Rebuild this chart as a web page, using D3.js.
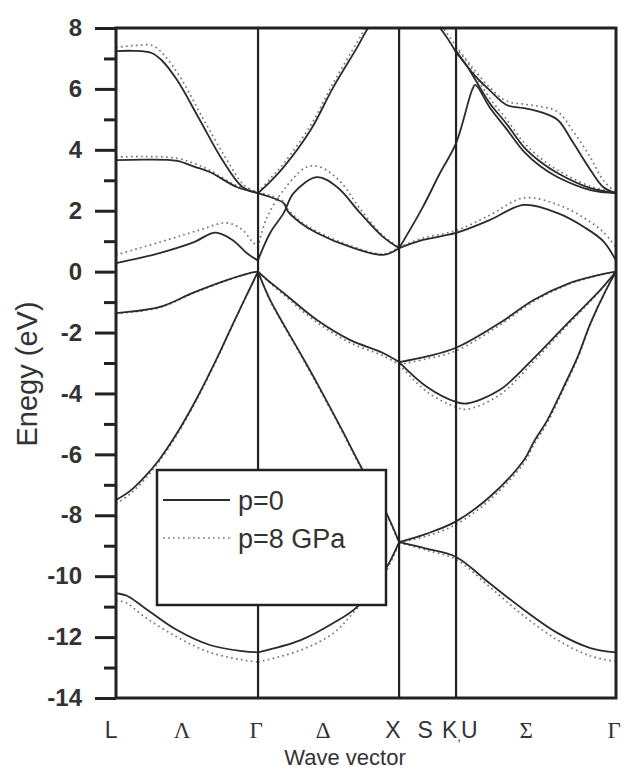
<!DOCTYPE html>
<html lang="en">
<head>
    <meta charset="UTF-8">
    <title>Band structure</title>
    <script src="https://d3js.org/d3.v7.min.js"></script>
    <style>
        body { margin: 0; background: #fff; }
        svg text { font-family: "Liberation Sans", Arial, sans-serif; fill: #333; }
    </style>
</head>
<body>
<div id="chart"></div>
<script>
    // k-path: L=0, Γ=1, X=1.993, K=2.394, Γ=3.52 (plot units)
    const kLabels = ["L", "Λ", "Γ", "Δ", "X", "S", "K,U", "Σ", "Γ"];
    const kLabelPos = [-0.035, 0.465, 0.986, 1.458, 1.95, 2.176, 2.42, 2.887, 3.507];
    const symLines = [1, 1.993, 2.394];
    const yTicks = [-14, -12, -10, -8, -6, -4, -2, 0, 2, 4, 6, 8];

    // ---- p = 0 (solid) ----
    const lgA = [[0,7.24],[0.12,7.25],[0.25,7.18],[0.32,6.95],[0.43,6.29],[0.59,4.98],[0.75,3.66],[0.89,2.78],[1,2.58]];
    const lgB = [[0,3.66],[0.2,3.68],[0.43,3.64],[0.55,3.45],[0.66,3.27],[0.85,2.78],[1,2.58]];
    const lgC = [[0,0.28],[0.3,0.6],[0.54,0.95],[0.70,1.28],[0.82,1.04],[0.92,0.61],[1,0.36]];
    const lgD = [[0,-1.36],[0.31,-1.16],[0.54,-0.7],[0.78,-0.28],[0.94,-0.05],[1,0]];
    const lgE = [[0,-7.5],[0.1,-7.2],[0.2,-6.75],[0.3,-6.2],[0.43,-5.3],[0.57,-4.15],[0.71,-2.85],[0.85,-1.45],[1,0]];
    const lgF = [[0,-10.56],[0.08,-10.65],[0.19,-11.0],[0.43,-11.77],[0.66,-12.26],[0.89,-12.46],[1,-12.5]];

    const gxG = [[1,2.58],[1.085,2.95],[1.18,3.43],[1.37,4.65],[1.53,6.06],[1.70,7.38],[1.775,8.0],[1.993,9.3]];
    const gxH = [[1,2.58],[1.085,2.45],[1.18,2.25],[1.21,1.98],[1.30,1.6],[1.415,1.27],[1.65,0.81],[1.88,0.55],[1.993,0.77]];
    const gxM = [[1,0.38],[1.085,1.27],[1.18,1.92],[1.25,2.58],[1.415,3.1],[1.556,2.78],[1.72,1.92],[1.88,1.14],[1.993,0.77]];
    const gxI = [[1,0],[1.06,-0.25],[1.18,-0.7],[1.415,-1.59],[1.65,-2.25],[1.88,-2.67],[1.993,-2.97]];
    const gxJ = [[1,0],[1.085,-0.93],[1.30,-2.7],[1.415,-3.66],[1.58,-5.1],[1.73,-6.45],[1.894,-7.83],[1.993,-8.88]];
    const gxN = [[1,-12.5],[1.3,-12.1],[1.53,-11.54],[1.70,-11.0],[1.894,-9.8],[1.993,-8.88]];

    const xkTop = [[1.993,9.3],[2.28,8.0],[2.394,7.2]];
    const kgP = [[1.993,0.77],[2.16,1.04],[2.394,1.27],[2.63,1.69],[2.87,2.19],[3.11,1.92],[3.30,1.45],[3.43,1.0],[3.52,0.36]];
    const kgQ = [[1.993,0.77],[2.16,2.12],[2.28,3.23],[2.394,4.22],[2.51,6.0],[2.53,6.13],[2.63,5.4],[2.75,4.68],[2.87,3.95],[2.99,3.45],[3.11,3.1],[3.34,2.68],[3.52,2.58]];
    const kgK1 = [[2.394,7.25],[2.51,6.52],[2.63,5.96],[2.75,5.47],[2.87,5.37],[2.99,5.24],[3.11,4.98],[3.22,4.22],[3.34,3.34],[3.43,2.78],[3.52,2.58]];
    const kgK2 = [[2.394,7.2],[2.47,6.75],[2.53,6.3],[2.63,5.54],[2.75,4.85],[2.87,4.1],[2.99,3.6],[3.11,3.23],[3.34,2.74],[3.52,2.58]];
    const kgR = [[1.993,-2.97],[2.19,-2.78],[2.394,-2.5],[2.70,-1.69],[2.94,-0.93],[3.18,-0.4],[3.41,-0.1],[3.52,0]];
    const kgS = [[1.993,-2.97],[2.19,-3.79],[2.394,-4.28],[2.47,-4.33],[2.70,-3.89],[2.94,-2.85],[3.18,-1.69],[3.41,-0.6],[3.52,0]];
    const kgT = [[1.993,-8.88],[2.19,-8.6],[2.394,-8.2],[2.63,-7.4],[2.87,-6.2],[2.94,-5.6],[3.04,-4.85],[3.15,-3.8],[3.25,-2.8],[3.34,-1.7],[3.45,-0.6],[3.52,0]];
    const kgU = [[1.993,-8.88],[2.19,-9.1],[2.394,-9.37],[2.63,-10.23],[2.87,-11.1],[3.11,-11.87],[3.34,-12.36],[3.52,-12.5]];

    // ---- p = 8 GPa (dotted) ----
    const lgA8 = [[0,7.36],[0.12,7.42],[0.26,7.42],[0.34,7.1],[0.45,6.4],[0.61,5.05],[0.77,3.75],[0.9,2.85],[1,2.6]];
    const lgB8 = [[0,3.76],[0.2,3.78],[0.43,3.72],[0.55,3.55],[0.66,3.33],[0.85,2.82],[1,2.6]];
    const lgC8 = [[0,0.55],[0.36,1.04],[0.59,1.37],[0.78,1.6],[0.89,1.37],[0.96,0.98],[1,0.8]];
    const lgD8 = [[0,-1.38],[0.31,-1.18],[0.54,-0.72],[0.78,-0.29],[0.94,-0.05],[1,0]];
    const lgE8 = [[0,-7.62],[0.1,-7.3],[0.2,-6.83],[0.3,-6.26],[0.43,-5.35],[0.57,-4.19],[0.71,-2.88],[0.85,-1.47],[1,0]];
    const lgF8 = [[0,-10.78],[0.08,-10.9],[0.19,-11.3],[0.43,-12.0],[0.66,-12.5],[0.89,-12.75],[1,-12.82]];

    const gxG8 = [[1,2.6],[1.085,3.05],[1.18,3.55],[1.37,4.8],[1.53,6.2],[1.70,7.55],[1.77,8.1],[1.993,9.5]];
    const gxH8 = [[1,2.6],[1.085,2.5],[1.18,2.3],[1.21,2.05],[1.30,1.65],[1.415,1.32],[1.65,0.85],[1.88,0.58],[1.993,0.8]];
    const gxM8 = [[1,0.8],[1.06,1.75],[1.18,2.68],[1.34,3.43],[1.44,3.43],[1.58,2.95],[1.72,2.05],[1.88,1.18],[1.993,0.8]];
    const gxI8 = [[1,0],[1.06,-0.27],[1.18,-0.76],[1.415,-1.67],[1.65,-2.34],[1.88,-2.76],[1.993,-3.05]];
    const gxJ8 = [[1,0],[1.085,-0.95],[1.30,-2.74],[1.415,-3.7],[1.58,-5.14],[1.73,-6.5],[1.894,-7.87],[1.993,-8.9]];
    const gxN8 = [[1,-12.82],[1.3,-12.43],[1.53,-11.87],[1.67,-11.2],[1.894,-9.9],[1.993,-8.9]];

    const xkTop8 = [[1.993,9.5],[2.30,8.0],[2.394,7.4]];
    const kgP8 = [[1.993,0.8],[2.16,1.1],[2.394,1.35],[2.63,1.85],[2.87,2.42],[3.11,2.2],[3.30,1.75],[3.43,1.3],[3.52,0.8]];
    const kgK18 = [[2.394,7.4],[2.51,6.7],[2.63,6.05],[2.75,5.6],[2.87,5.5],[2.99,5.42],[3.11,5.25],[3.22,4.6],[3.34,3.75],[3.43,3.0],[3.52,2.6]];
    const kgK28 = [[2.394,7.35],[2.47,6.9],[2.53,6.45],[2.63,5.7],[2.75,5.0],[2.87,4.25],[2.99,3.72],[3.11,3.33],[3.34,2.8],[3.52,2.6]];
    const kgR8 = [[1.993,-3.05],[2.19,-2.86],[2.394,-2.6],[2.70,-1.76],[2.94,-0.98],[3.18,-0.43],[3.41,-0.11],[3.52,0]];
    const kgS8 = [[1.993,-3.05],[2.19,-3.95],[2.394,-4.45],[2.47,-4.52],[2.70,-4.05],[2.94,-2.95],[3.18,-1.75],[3.41,-0.62],[3.52,0]];
    const kgT8 = [[1.993,-8.9],[2.19,-8.68],[2.394,-8.3],[2.63,-7.5],[2.87,-6.3],[2.94,-5.7],[3.04,-4.93],[3.15,-3.87],[3.25,-2.85],[3.34,-1.73],[3.45,-0.61],[3.52,0]];
    const kgU8 = [[1.993,-8.9],[2.19,-9.15],[2.394,-9.45],[2.63,-10.35],[2.87,-11.3],[3.11,-12.1],[3.34,-12.62],[3.52,-12.8]];

    const bandsP0 = [lgA, lgB, lgC, lgD, lgE, lgF, gxG, gxH, gxM, gxI, gxJ, gxN, xkTop, kgP, kgQ, kgK1, kgK2, kgR, kgS, kgT, kgU];
    const bandsP8 = [lgA8, lgB8, lgC8, lgD8, lgE8, lgF8, gxG8, gxH8, gxM8, gxI8, gxJ8, gxN8, xkTop8, kgP8, kgK18, kgK28, kgR8, kgS8, kgT8, kgU8];

    const width = 625, height = 771;
    const margin = { top: 28, right: 9, bottom: 73, left: 116 };

    const svg = d3.select("#chart").append("svg")
        .attr("width", width)
        .attr("height", height);

    const x = d3.scaleLinear().domain([0, 3.52]).range([margin.left, width - margin.right]);
    const y = d3.scaleLinear().domain([-14, 8]).range([height - margin.bottom, margin.top]);

    svg.append("clipPath").attr("id", "plot-clip")
        .append("rect")
        .attr("x", x(0)).attr("y", y(8))
        .attr("width", x(3.52) - x(0)).attr("height", y(-14) - y(8));

    const line = d3.line()
        .x(d => x(d[0]))
        .y(d => y(d[1]))
        .curve(d3.curveCatmullRom.alpha(0.5));

    const plot = svg.append("g").attr("clip-path", "url(#plot-clip)");

    // dotted first, solid on top
    plot.selectAll(".p8").data(bandsP8).join("path")
        .attr("class", "p8")
        .attr("d", line)
        .attr("fill", "none")
        .attr("stroke", "#777")
        .attr("stroke-width", 1.7)
        .attr("stroke-dasharray", "1.7,3.3");

    plot.selectAll(".p0").data(bandsP0).join("path")
        .attr("class", "p0")
        .attr("d", line)
        .attr("fill", "none")
        .attr("stroke", "#2b2b2b")
        .attr("stroke-width", 1.8);

    // high-symmetry vertical lines
    svg.selectAll(".sym").data(symLines).join("line")
        .attr("x1", d => x(d)).attr("x2", d => x(d))
        .attr("y1", y(8)).attr("y2", y(-14))
        .attr("stroke", "#222")
        .attr("stroke-width", 2.2);

    // left axis with major and minor ticks
    const yAxis = d3.axisLeft(y).tickValues(yTicks).tickSize(21).tickPadding(13)
        .tickFormat(d => String(d));
    const ga = svg.append("g").attr("transform", `translate(${x(0)},0)`).call(yAxis);
    ga.select(".domain").remove();
    ga.selectAll(".tick line").attr("stroke", "#222").attr("stroke-width", 3);
    ga.selectAll(".tick text").attr("font-size", 24).attr("font-weight", "bold").attr("fill", "#3a3a3a")
        .style("font-family", "Liberation Sans, Arial, sans-serif");

    const yMinor = d3.axisLeft(y).tickValues(d3.range(-13, 8, 2)).tickSize(12).tickFormat("");
    const gm = svg.append("g").attr("transform", `translate(${x(0)},0)`).call(yMinor);
    gm.select(".domain").remove();
    gm.selectAll(".tick line").attr("stroke", "#222").attr("stroke-width", 3);

    // frame
    svg.append("rect")
        .attr("x", x(0)).attr("y", y(8))
        .attr("width", x(3.52) - x(0)).attr("height", y(-14) - y(8))
        .attr("fill", "none")
        .attr("stroke", "#222")
        .attr("stroke-width", 3);

    // x labels
    const greek = new Set(["Λ", "Γ", "Δ", "Σ"]);
    const xl = svg.append("g").selectAll("text").data(kLabels).join("text")
        .attr("x", (d, i) => x(kLabelPos[i]))
        .attr("y", 738)
        .attr("text-anchor", "middle")
        .attr("font-size", 23)
        .style("font-family", d => greek.has(d) ? "Liberation Serif, serif" : "Liberation Sans, Arial, sans-serif");
    xl.each(function(d) {
        const t = d3.select(this);
        if (d === "K,U") {
            t.append("tspan").text("K");
            t.append("tspan").attr("font-size", 13).attr("dy", 3).text(",");
            t.append("tspan").attr("dy", -3).text("U");
        } else {
            t.text(d);
        }
    });

    svg.append("text")
        .attr("x", 345).attr("y", 765)
        .attr("text-anchor", "middle")
        .attr("font-size", 22)
        .text("Wave vector");

    svg.append("text")
        .attr("transform", `translate(37,374) rotate(-90)`)
        .attr("text-anchor", "middle")
        .attr("font-size", 29)
        .text("Enegy (eV)");

    // legend
    const lg = svg.append("g");
    lg.append("rect")
        .attr("x", 157).attr("y", 470).attr("width", 229).attr("height", 135)
        .attr("fill", "#fff").attr("stroke", "#222").attr("stroke-width", 2.5);
    lg.append("line").attr("x1", 163).attr("x2", 230).attr("y1", 500).attr("y2", 500)
        .attr("stroke", "#2b2b2b").attr("stroke-width", 1.8);
    lg.append("line").attr("x1", 163).attr("x2", 230).attr("y1", 538).attr("y2", 538)
        .attr("stroke", "#777").attr("stroke-width", 1.7).attr("stroke-dasharray", "1.7,3.3");
    lg.append("text").attr("x", 238).attr("y", 510).attr("font-size", 27).text("p=0");
    lg.append("text").attr("x", 238).attr("y", 548).attr("font-size", 27).text("p=8 GPa");
</script>
</body>
</html>
